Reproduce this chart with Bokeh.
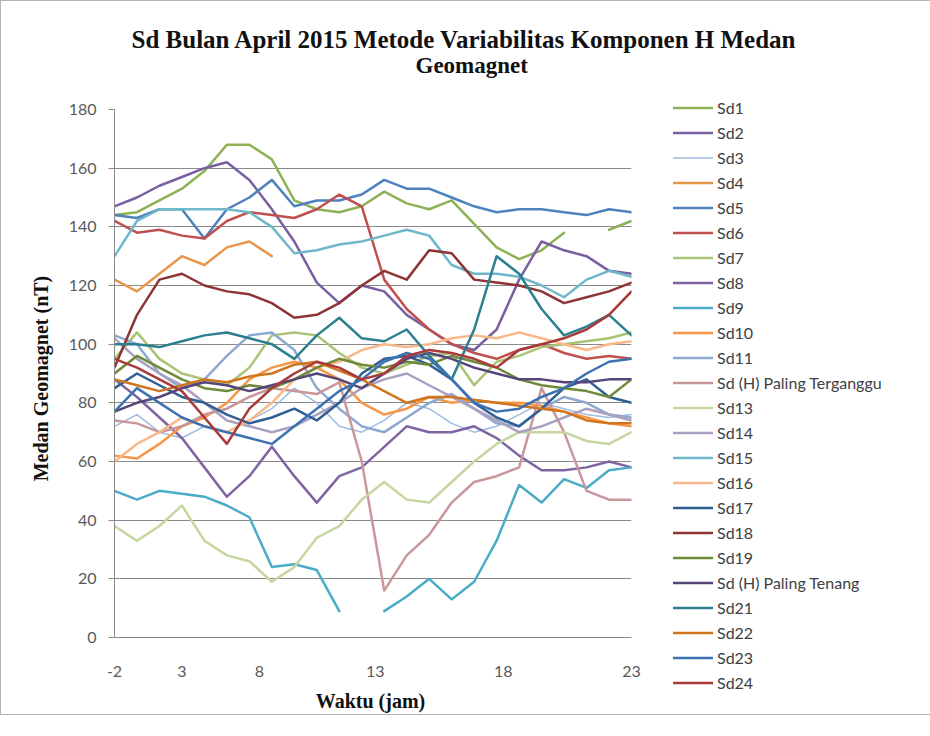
import math
from bokeh.plotting import figure
from bokeh.models import (Range1d, FixedTicker, Legend, LegendItem, Title, ColumnDataSource)
from bokeh.embed import file_html
from bokeh.resources import INLINE

NaN = float("nan")

hours = list(range(24))
x_tick_pos = [0, 3, 6.45, 11.6, 17.3, 23]
x_tick_labels = ["-2", "3", "8", "13", "18", "23"]
y_ticks = [0, 20, 40, 60, 80, 100, 120, 140, 160, 180]

names = ["Sd1", "Sd2", "Sd3", "Sd4", "Sd5", "Sd6", "Sd7", "Sd8", "Sd9", "Sd10", "Sd11",
         "Sd (H) Paling Terganggu", "Sd13", "Sd14", "Sd15", "Sd16", "Sd17", "Sd18", "Sd19",
         "Sd (H) Paling Tenang", "Sd21", "Sd22", "Sd23", "Sd24"]

sd1 = [144, 145, 149, 153, 159, 168, 168, 163, 149, 146, 145, 147, 152, 148, 146, 149, 141, 133, 129, 132, 138, NaN, 139, 142]
sd2 = [147, 150, 154, 157, 160, 162, 156, 146, 135, 121, 114, 120, 118, 110, 105, 100, 98, 105, 122, 135, 132, 130, 125, 124]
sd3 = [72, 76, 70, 68, 72, 70, 74, 78, 85, 80, 72, 70, 74, 80, 78, 73, 70, 72, 76, 80, 78, 76, 75, 76]
sd4 = [122, 118, 124, 130, 127, 133, 135, 130, NaN, NaN, NaN, NaN, NaN, NaN, NaN, NaN, NaN, NaN, NaN, NaN, NaN, NaN, NaN, NaN]
sd5 = [144, 143, 146, 146, 136, 146, 150, 156, 147, 149, 149, 151, 156, 153, 153, 150, 147, 145, 146, 146, 145, 144, 146, 145]
sd6 = [142, 138, 139, 137, 136, 142, 145, 144, 143, 146, 151, 147, 122, 112, 105, 100, 97, 95, 98, 100, 97, 95, 96, 95]
sd7 = [95, 104, 95, 90, 88, 86, 92, 103, 104, 103, 97, 92, 90, 93, 96, 97, 86, 94, 96, 99, 100, 101, 102, 104]
sd8 = [88, 82, 75, 68, 58, 48, 55, 65, 55, 46, 55, 58, 65, 72, 70, 70, 72, 68, 62, 57, 57, 58, 60, 58]
sd9 = [50, 47, 50, 49, 48, 45, 41, 24, 25, 23, 9, NaN, 9, 14, 20, 13, 19, 33, 52, 46, 54, 51, 57, 58]
sd10 = [62, 61, 66, 72, 75, 80, 88, 92, 94, 92, 88, 80, 76, 78, 82, 80, 81, 80, 80, 79, 77, 75, 73, 72]
sd11 = [103, 100, 90, 85, 88, 96, 103, 104, 98, 85, 78, 72, 70, 75, 80, 83, 78, 73, 72, 78, 82, 80, 76, 75]
sd12 = [74, 73, 70, 72, 76, 78, 82, 85, 84, 83, 87, 60, 16, 28, 35, 46, 53, 55, 58, 85, 70, 50, 47, 47]
sd13 = [38, 33, 38, 45, 33, 28, 26, 19, 24, 34, 38, 47, 53, 47, 46, 53, 60, 66, 70, 70, 70, 67, 66, 70]
sd14 = [102, 95, 90, 86, 80, 74, 72, 70, 72, 76, 80, 85, 88, 90, 86, 82, 78, 74, 70, 72, 75, 78, 76, 74]
sd15 = [130, 142, 146, 146, 146, 146, 145, 140, 131, 132, 134, 135, 137, 139, 137, 127, 124, 124, 123, 120, 116, 122, 125, 123]
sd16 = [60, 66, 70, 75, 72, 70, 74, 80, 88, 92, 94, 98, 100, 99, 100, 102, 103, 102, 104, 102, 100, 98, 100, 101]
sd17 = [85, 90, 86, 82, 80, 76, 73, 75, 78, 74, 80, 90, 95, 96, 93, 88, 80, 75, 72, 78, 85, 88, 82, 80]
sd18 = [92, 110, 122, 124, 120, 118, 117, 114, 109, 110, 114, 120, 125, 122, 132, 131, 122, 121, 120, 118, 114, 116, 118, 121]
sd19 = [90, 96, 92, 88, 85, 84, 86, 85, 88, 92, 95, 93, 92, 94, 93, 96, 94, 92, 88, 86, 85, 84, 82, 88]
sd20 = [77, 80, 82, 85, 87, 86, 84, 86, 88, 90, 88, 85, 90, 95, 97, 95, 92, 90, 88, 88, 87, 87, 88, 88]
sd21 = [100, 100, 99, 101, 103, 104, 102, 100, 95, 103, 109, 102, 101, 105, 96, 88, 105, 130, 124, 112, 103, 106, 110, 103]
sd22 = [88, 86, 84, 86, 88, 87, 89, 90, 93, 94, 91, 88, 84, 80, 82, 82, 81, 80, 79, 78, 77, 74, 73, 73]
sd23 = [77, 85, 80, 75, 72, 70, 68, 66, 72, 78, 84, 88, 94, 97, 95, 88, 80, 77, 78, 82, 85, 90, 94, 95]
sd24 = [95, 92, 88, 84, 75, 66, 78, 85, 90, 94, 92, 88, 90, 96, 98, 97, 95, 92, 98, 100, 102, 105, 110, 118]

series = [sd1, sd2, sd3, sd4, sd5, sd6, sd7, sd8, sd9, sd10, sd11, sd12, sd13, sd14, sd15, sd16,
          sd17, sd18, sd19, sd20, sd21, sd22, sd23, sd24]

colors = ["#8DB255", "#7A5FA0", "#9DBCE0", "#E8964A", "#4F81BD", "#C0504D", "#A9C474", "#8064A2",
          "#4BACC6", "#F79646", "#8EA9D0", "#C9979A", "#C5D6A0", "#ABA0C0", "#6FB7CB", "#F8B88A",
          "#2F5F95", "#8E3434", "#6E8A38", "#56457A", "#2C7F8F", "#D0751F", "#3C72B0", "#A83A3A"]
widths = [2.5] * 24
widths[2] = 1.5

p = figure(width=910, height=708, output_backend="svg", toolbar_location=None,
           x_range=Range1d(0, 23), y_range=Range1d(0, 180),
           min_border_left=113, min_border_top=108, min_border_bottom=72, min_border_right=280,
           frame_width=517, frame_height=528)
p.outline_line_color = None
p.background_fill_color = "white"
p.border_fill_color = "white"
p.styles = {"border": "1px solid #b4b4b4"}

items = []
for name, vals, col, w in zip(names, series, colors, widths):
    src = ColumnDataSource(dict(x=hours, y=vals))
    r = p.line("x", "y", source=src, line_color=col, line_width=w, line_join="round", line_cap="round")
    items.append(LegendItem(label=name, renderers=[r]))

legend = Legend(items=items, location=(42, -56), margin=0, padding=2,
                spacing=4, label_height=21, glyph_height=21, glyph_width=40,
                label_standoff=4, border_line_color=None, background_fill_alpha=0,
                label_text_font="Lato", label_text_font_size="16px", label_text_color="#404040")
p.add_layout(legend, "right")

# grid
p.xgrid.grid_line_color = None
p.ygrid.grid_line_color = "#8a8a8a"
p.ygrid.grid_line_width = 1
p.ygrid.ticker = FixedTicker(ticks=y_ticks)

# y axis
p.yaxis.ticker = FixedTicker(ticks=y_ticks)
p.yaxis.axis_line_color = "#8a8a8a"
p.yaxis.major_tick_line_color = "#8a8a8a"
p.yaxis.major_tick_out = 6
p.yaxis.major_tick_in = 0
p.yaxis.minor_tick_line_color = None
p.yaxis.major_label_text_font = "Lato"
p.yaxis.major_label_text_font_size = "16px"
p.yaxis.major_label_text_color = "#595959"
p.yaxis.major_label_standoff = 12
p.yaxis.axis_label = "Medan  Geomagnet  (nT)"
p.yaxis.axis_label_text_font = "Liberation Serif"
p.yaxis.axis_label_text_font_style = "bold"
p.yaxis.axis_label_text_font_size = "20px"
p.yaxis.axis_label_text_color = "#111111"
p.yaxis.axis_label_standoff = 14

# x axis
p.xaxis.ticker = FixedTicker(ticks=x_tick_pos)
p.xaxis.major_label_overrides = {pos: lab for pos, lab in zip(x_tick_pos, x_tick_labels)}
p.xaxis.axis_line_color = "#8a8a8a"
p.xaxis.major_tick_line_color = None
p.xaxis.minor_tick_line_color = None
p.xaxis.major_label_text_font = "Lato"
p.xaxis.major_label_text_font_size = "16px"
p.xaxis.major_label_text_color = "#595959"
p.xaxis.major_label_standoff = 22
p.xaxis.axis_label = "Waktu  (jam)"
p.xaxis.axis_label_text_font = "Liberation Serif"
p.xaxis.axis_label_text_font_style = "bold"
p.xaxis.axis_label_text_font_size = "20px"
p.xaxis.axis_label_text_color = "#111111"
p.xaxis.axis_label_standoff = 10

# titles (two lines) with a spacer panel next to the frame
spacer = Title(text=" ", standoff=3, text_font_size="24px", text_color="white")
t2 = Title(text="Geomagnet", align="left", offset=301, standoff=0,
           text_font="Liberation Serif", text_font_style="bold", text_font_size="23px",
           text_color="#111111")
t1 = Title(text="Sd Bulan April 2015 Metode Variabilitas Komponen H Medan", align="left", offset=17,
           standoff=-4, text_font="Liberation Serif", text_font_style="bold", text_font_size="25px",
           text_color="#111111")
p.add_layout(spacer, "above")
p.add_layout(t2, "above")
p.add_layout(t1, "above")

open("out.html", "w").write(file_html(p, INLINE))
